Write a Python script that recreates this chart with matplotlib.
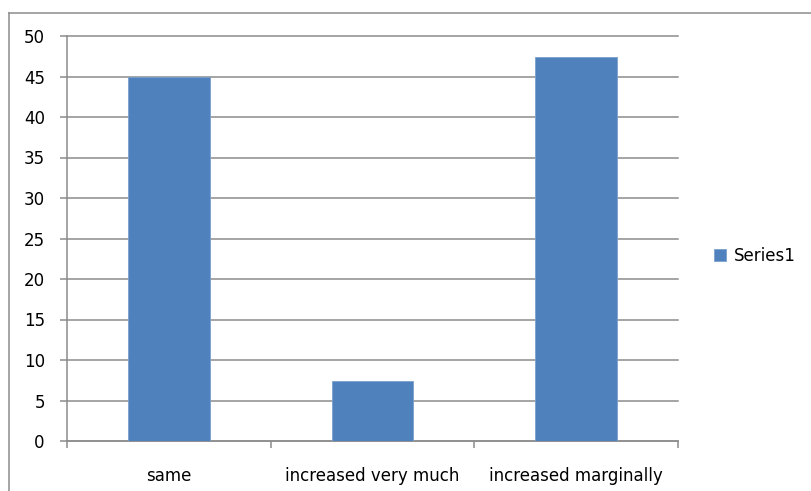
import matplotlib.pyplot as plt
from matplotlib.lines import Line2D

# Daten aus dem Diagramm
categories = ['same', 'increased very much', 'increased marginally']
values = [45, 7.4, 47.4]
series_name = 'Series1'

W, H = 811, 491
plt.rcParams['font.family'] = ['DejaVu Sans']

fig = plt.figure(figsize=(W / 100, H / 100), dpi=100)
ax = fig.add_axes([67 / W, (H - 441) / H, (678 - 67) / W, (441 - 36) / H])

bar_color = '#4f81bd'
grid_color = '#8c8c8c'

x = range(len(categories))
ax.bar(x, values, width=0.4, color=bar_color, edgecolor='#7ba0cd', linewidth=0.6,
       label=series_name, zorder=3)

ax.set_xlim(-0.5, len(categories) - 0.5)
ax.set_ylim(0, 50)
ax.set_yticks(range(0, 51, 5))
ax.yaxis.grid(True, color=grid_color, linewidth=1.1, zorder=0)
for gl in ax.get_ygridlines():
    gl.set_clip_on(False)

# Kategorien mittig, Tickstriche an den Grenzen
ax.set_xticks(list(x))
ax.set_xticklabels(categories)
ax.set_xticks([i - 0.5 for i in range(len(categories) + 1)], minor=True)
ax.tick_params(axis='x', which='major', length=0, pad=19, labelsize=12)
ax.tick_params(axis='x', which='minor', length=5, color=grid_color, width=1.1)
ax.tick_params(axis='y', length=5, color=grid_color, width=1.1, labelsize=12, pad=11)

for side in ['top', 'right']:
    ax.spines[side].set_visible(False)
for side in ['left', 'bottom']:
    ax.spines[side].set_color(grid_color)
    ax.spines[side].set_linewidth(1.1)

ax.legend(loc='center left', bbox_to_anchor=(714 / W, (H - 256) / H),
          bbox_transform=fig.transFigure, frameon=False, fontsize=12,
          borderpad=0, borderaxespad=0,
          handlelength=0.7, handleheight=0.7, handletextpad=0.5)

# Rahmen um das Diagramm (rechts und unten abgeschnitten)
fig.add_artist(Line2D([9 / W, 1], [(H - 13) / H, (H - 13) / H], color='#8c8c8c',
                      linewidth=1.1, transform=fig.transFigure))
fig.add_artist(Line2D([9 / W, 9 / W], [0, (H - 13) / H], color='#8c8c8c',
                      linewidth=1.1, transform=fig.transFigure))

fig.savefig('out.png', dpi=100)
